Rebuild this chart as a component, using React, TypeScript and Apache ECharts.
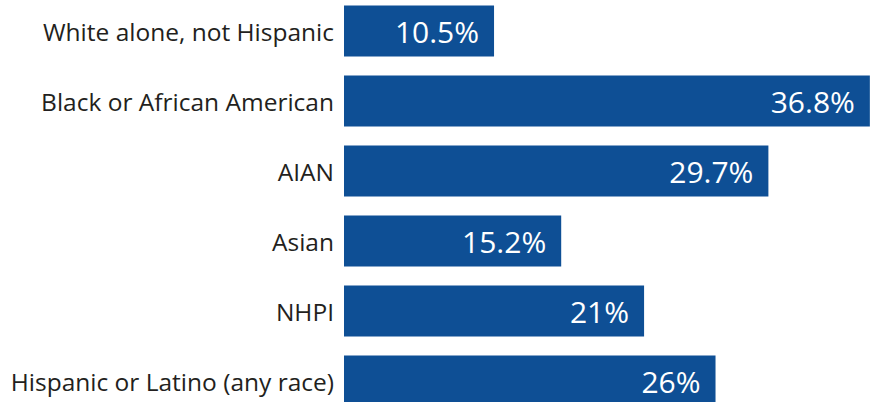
import React, { useEffect, useRef } from "react";
import * as echarts from "echarts";

const categories = [
  "White alone, not Hispanic",
  "Black or African American",
  "AIAN",
  "Asian",
  "NHPI",
  "Hispanic or Latino (any race)",
];
const values = [10.5, 36.8, 29.7, 15.2, 21, 26];
const valueLabels = ["10.5%", "36.8%", "29.7%", "15.2%", "21%", "26%"];

export default function App() {
  const ref = useRef<HTMLDivElement>(null);
  useEffect(() => {
    document.body.style.margin = "0";
    if (!ref.current) return;
    const chart = echarts.init(ref.current, null, { renderer: "svg" });
    chart.setOption({
      animation: false,
      backgroundColor: "#ffffff",
      grid: { left: 344, right: 0, top: 0, bottom: 0, containLabel: false },
      xAxis: {
        type: "value",
        min: 0,
        max: 38,
        show: false,
      },
      yAxis: {
        type: "category",
        data: categories,
        inverse: true,
        axisLine: { show: false },
        axisTick: { show: false },
        splitLine: { show: false },
        axisLabel: {
          color: "#231f20",
          fontFamily: "Open Sans",
          fontSize: 24.5,
          margin: 10,
        },
      },
      series: [
        {
          type: "bar",
          data: values,
          barWidth: 51,
          itemStyle: { color: "#0e4f95" },
          label: {
            show: true,
            position: "insideRight",
            distance: 15,
            color: "#ffffff",
            fontFamily: "Open Sans",
            fontSize: 30,
            formatter: (p: any) => valueLabels[p.dataIndex],
          },
        },
      ],
    });
    return () => chart.dispose();
  }, []);
  return (
    <div style={{ width: 887, height: 402, overflow: "hidden", position: "relative" }}>
      <div
        ref={ref}
        style={{ position: "absolute", left: 0, top: -4, width: 887, height: 420 }}
      />
    </div>
  );
}
